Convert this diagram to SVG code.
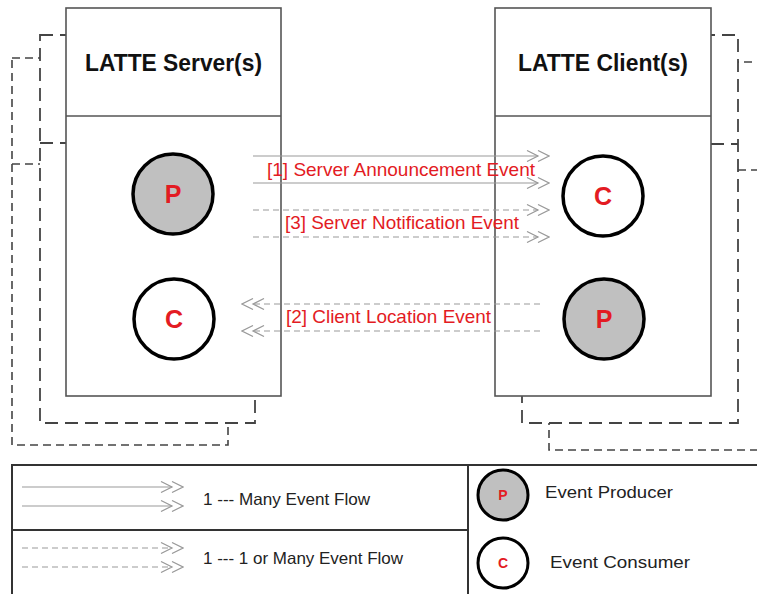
<svg xmlns="http://www.w3.org/2000/svg" width="757" height="594" viewBox="0 0 757 594">
<style>
.box{fill:#fff;stroke:#555;stroke-width:1.6}
.l2{fill:#fff;stroke:#444;stroke-width:1.8;stroke-dasharray:13 7}
.l3{fill:#fff;stroke:#444;stroke-width:1.6;stroke-dasharray:8 5}
.title{font-family:"Liberation Sans",Arial,sans-serif;font-weight:bold;font-size:23px;fill:#111;text-anchor:middle}
.pc{stroke:#000;stroke-width:3.5}
.letter{font-family:"Liberation Sans",Arial,sans-serif;font-weight:bold;font-size:25px;fill:#e31b23;text-anchor:middle}
.flow{stroke:#999;stroke-width:1.2;fill:none}
.dash{stroke-dasharray:6 4}
.lbl{font-family:"Liberation Sans",Arial,sans-serif;font-size:18.5px;fill:#e31b23}
.leg{font-family:"Liberation Sans",Arial,sans-serif;font-size:16.5px;fill:#222}
</style>
<defs>
<marker id="dbl" viewBox="0 0 24 12" markerWidth="24" markerHeight="12" refX="12" refY="6" orient="auto" markerUnits="userSpaceOnUse">
<path d="M1,0.5 L12,6 L1,11.5 M12,0.5 L23,6 L12,11.5" fill="none" stroke="#999" stroke-width="1.2"/>
</marker>
</defs>

<g id="server">
<rect class="l3" x="12" y="58" width="216" height="387"/>
<line class="l3" x1="12" y1="164" x2="40" y2="164"/>
<rect class="l2" x="40" y="35" width="215" height="388"/>
<line class="l2" x1="40" y1="143" x2="66" y2="143"/>
<rect class="box" x="66" y="8" width="215" height="388"/>
<line class="box" x1="66" y1="116" x2="281" y2="116"/>
<text class="title" x="173.5" y="71" textLength="177" lengthAdjust="spacingAndGlyphs">LATTE Server(s)</text>
</g>

<g id="client">
<rect class="l3" x="549" y="62" width="216" height="388"/>
<line class="l3" x1="738" y1="170" x2="765" y2="170"/>
<rect class="l2" x="522" y="35" width="216" height="388"/>
<line class="l2" x1="711" y1="144" x2="738" y2="144"/>
<rect class="box" x="495" y="8" width="216" height="388"/>
<line class="box" x1="495" y1="116" x2="711" y2="116"/>
<text class="title" x="603" y="71" textLength="170" lengthAdjust="spacingAndGlyphs">LATTE Client(s)</text>
</g>

<g id="server-producer">
<circle class="pc" cx="173" cy="194" r="40" fill="#c0c0c0"/>
<text class="letter" x="173" y="203">P</text>
</g>
<g id="server-consumer">
<circle class="pc" cx="174" cy="319" r="40" fill="#fff"/>
<text class="letter" x="174" y="328">C</text>
</g>
<g id="client-consumer">
<circle class="pc" cx="603" cy="196" r="40" fill="#fff"/>
<text class="letter" x="603" y="205">C</text>
</g>
<g id="client-producer">
<circle class="pc" cx="604" cy="319" r="40" fill="#c0c0c0"/>
<text class="letter" x="604" y="328">P</text>
</g>

<g id="connectors">
<line class="flow" x1="253" y1="156" x2="538" y2="156" marker-end="url(#dbl)"/>
<line class="flow" x1="253" y1="183" x2="538" y2="183" marker-end="url(#dbl)"/>
<text class="lbl" x="267" y="176" textLength="268" lengthAdjust="spacingAndGlyphs">[1] Server Announcement Event</text>
<line class="flow dash" x1="253" y1="210" x2="538" y2="210" marker-end="url(#dbl)"/>
<line class="flow dash" x1="253" y1="237" x2="538" y2="237" marker-end="url(#dbl)"/>
<text class="lbl" x="285" y="229" textLength="234" lengthAdjust="spacingAndGlyphs">[3] Server Notification Event</text>
<line class="flow dash" x1="540" y1="304" x2="253" y2="304" marker-end="url(#dbl)"/>
<line class="flow dash" x1="540" y1="331" x2="253" y2="331" marker-end="url(#dbl)"/>
<text class="lbl" x="286" y="323" textLength="205" lengthAdjust="spacingAndGlyphs">[2] Client Location Event</text>
</g>

<g id="legend">
<rect x="12" y="465" width="760" height="140" fill="#fff" stroke="#333" stroke-width="2"/>
<line x1="468" y1="465" x2="468" y2="594" stroke="#333" stroke-width="2"/>
<line x1="12" y1="530" x2="468" y2="530" stroke="#333" stroke-width="2"/>
<line class="flow" x1="22" y1="487" x2="172" y2="487" marker-end="url(#dbl)"/>
<line class="flow" x1="22" y1="506" x2="172" y2="506" marker-end="url(#dbl)"/>
<text class="leg" x="203" y="505" textLength="167" lengthAdjust="spacingAndGlyphs">1 --- Many Event Flow</text>
<line class="flow dash" x1="22" y1="548" x2="172" y2="548" marker-end="url(#dbl)"/>
<line class="flow dash" x1="22" y1="567" x2="172" y2="567" marker-end="url(#dbl)"/>
<text class="leg" x="203" y="564" textLength="200" lengthAdjust="spacingAndGlyphs">1 --- 1 or Many Event Flow</text>
<circle cx="503" cy="495" r="25" fill="#c0c0c0" stroke="#000" stroke-width="3"/>
<text x="503" y="500" font-family="Liberation Sans, Arial, sans-serif" font-weight="bold" font-size="14" fill="#e31b23" text-anchor="middle">P</text>
<text class="leg" x="545" y="498" font-size="17" textLength="128" lengthAdjust="spacingAndGlyphs">Event Producer</text>
<circle cx="503" cy="563" r="25" fill="#fff" stroke="#000" stroke-width="3"/>
<text x="503" y="568" font-family="Liberation Sans, Arial, sans-serif" font-weight="bold" font-size="14" fill="#e31b23" text-anchor="middle">C</text>
<text class="leg" x="550" y="568" font-size="17" textLength="140" lengthAdjust="spacingAndGlyphs">Event Consumer</text>
</g>
</svg>
